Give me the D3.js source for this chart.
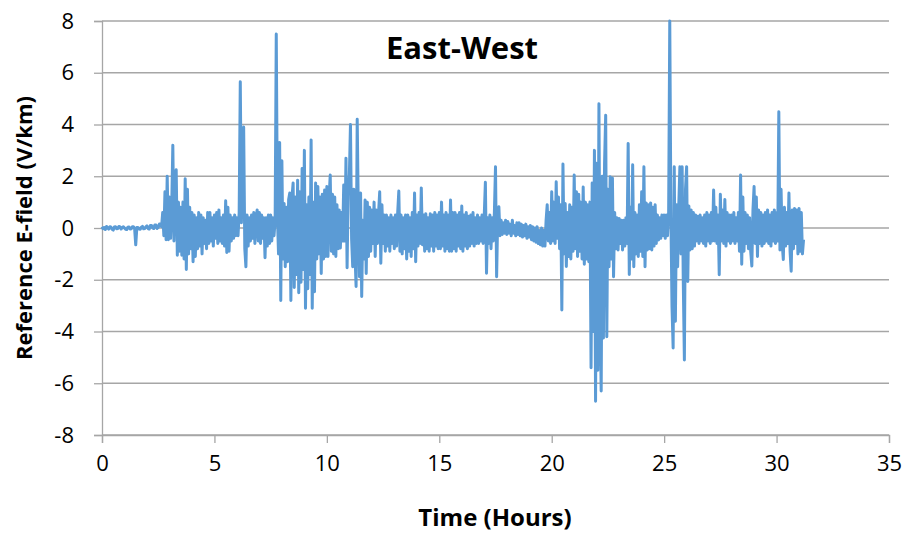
<!DOCTYPE html>
<html>
<head>
<meta charset="utf-8">
<script src="https://cdn.jsdelivr.net/npm/d3@7/dist/d3.min.js"></script>
<style>
  body { margin: 0; background: #fff; }
  text { font-family: "Open Sans", "Liberation Sans", sans-serif; fill: #000; }
</style>
</head>
<body>
<svg id="chart" width="914" height="538"></svg>
<script>
// East-West reference E-field, one sample every 0.05 hour (20 per row = 1 hour)
const sampleStep = 0.05;
const ewRows = [
  [0.05, -0.03, 0.02, -0.06, 0.06, 0.0, -0.04, 0.05, 0.03, -0.05, -0.08, 0.04, 0.05, -0.03, -0.02, 0.06, 0.04, -0.04, 0.02, 0.05],
  [0.0, -0.05, -0.06, 0.03, 0.04, -0.04, -0.03, 0.05, 0.05, -0.02, -0.65, 0.02, 0.02, -0.04, -0.05, 0.03, 0.06, -0.03, -0.02, 0.04],
  [0.08, -0.02, -0.04, 0.1, 0.1, 0.0, -0.02, 0.12, 0.12, -0.02, 0.02, 0.15, 0.15, 0.05, 0.6, -0.3, 1.4, -0.45, 2.0, -0.45],
  [1.2, -0.4, 0.8, 3.2, -0.5, 2.0, 2.25, -1.05, 1.0, -0.9, 0.8, -1.05, 1.0, -1.2, 1.9, -1.6, 1.5, -1.0, 0.8, -0.8],
  [0.6, -1.3, 0.5, -1.1, 0.4, -0.8, 0.6, -0.7, 0.5, -1.0, 0.4, -0.6, 0.3, -0.8, 0.6, -0.6, 0.6, -0.5, 0.4, -0.7],
  [0.5, -0.4, 0.6, -0.6, 0.7, -0.5, 0.4, -0.6, 0.5, -0.7, 1.05, -0.95, 0.8, -0.9, 0.5, -0.5, 0.4, -0.4, 0.5, -0.3],
  [0.4, -0.3, 0.6, 5.65, 0.2, 3.0, 3.9, -0.8, -1.5, 0.5, -0.7, 0.4, -0.5, 0.5, -0.4, 0.6, -0.6, 0.4, 0.7, -0.5],
  [0.6, -0.6, 0.5, -0.4, 0.4, -1.15, 0.4, -0.7, 0.5, -0.6, 0.5, -0.5, 0.4, -0.3, 0.3, 7.5, 0.5, -1.0, 3.3, -2.8],
  [2.6, -1.2, 0.95, -1.5, 0.8, -1.3, 1.1, 1.35, -2.8, 1.2, 1.74, -2.3, 1.2, -1.8, 1.85, -2.5, 1.4, -2.1, 2.3, -1.6],
  [3.0, -3.1, 0.9, -2.35, 1.2, -1.8, 3.4, -3.1, 1.0, -2.46, 1.74, -1.2, 1.6, -1.0, 1.2, -1.76, 1.3, -1.2, 1.47, -1.1],
  [1.6, -1.1, 1.2, 2.05, -0.9, 1.3, -1.0, 1.2, -1.1, 0.9, -0.8, 0.7, -0.77, 0.6, -0.5, 1.66, -0.5, 2.7, -1.54, 1.5],
  [2.0, 4.0, -0.4, -1.5, 1.5, -1.0, -2.26, 4.2, 0.5, -1.88, 1.35, -2.65, 0.3, -1.2, 1.08, -1.76, 1.0, -1.1, 0.8, -0.9],
  [0.7, -0.6, 1.0, -1.1, 0.7, -0.6, 0.6, 1.4, -1.36, 0.9, -0.6, 0.5, -0.9, 0.5, -0.7, 0.4, -0.9, 0.5, -0.6, 0.4],
  [-0.8, 0.5, -0.7, 0.6, 1.43, -0.9, 0.5, -1.0, 0.4, -0.8, 0.5, -1.2, 0.5, -0.9, 0.4, -1.1, 0.6, -0.8, 1.35, -1.3],
  [0.5, -0.7, 0.6, -0.6, 1.55, -0.65, 0.5, -0.9, 0.55, -0.8, 0.4, -0.9, 0.55, -0.7, 0.5, -0.9, 0.6, -0.7, 0.5, -0.8],
  [0.6, -0.8, 1.0, -0.7, 0.5, -0.9, 0.6, -0.8, 0.5, -0.9, 1.08, -0.9, 0.6, -0.8, 0.6, -0.9, 0.5, -0.7, 0.6, -0.8],
  [0.85, -0.9, 0.5, -0.7, 0.6, -0.8, 0.45, -0.7, 0.5, -0.6, 0.6, -0.7, 0.4, -0.6, 0.5, -0.6, 0.4, -0.5, 0.5, -0.6],
  [0.5, 1.77, -1.75, 0.4, -0.6, 0.5, -0.8, 0.4, -0.5, 0.6, 2.37, -1.88, 0.5, 0.82, -0.3, 0.3, -0.25, 0.2, -0.2, 0.3],
  [-0.25, 0.25, -0.2, 0.15, -0.3, 0.3, -0.2, 0.1, -0.3, 0.2, -0.25, 0.2, -0.3, 0.15, -0.35, 0.1, -0.3, 0.15, -0.4, 0.05],
  [-0.35, 0.1, -0.45, 0.05, -0.5, 0.0, -0.55, 0.05, -0.6, -0.1, -0.65, 0.0, -0.7, -0.1, -0.7, 0.3, 0.9, -0.5, 0.6, -0.6],
  [1.4, -0.5, 1.0, -0.6, 1.79, -0.4, 1.2, -0.8, 0.9, -3.17, 2.47, -1.0, 0.95, -1.49, 0.6, -1.1, 0.9, -1.2, 0.8, -0.9],
  [2.05, -0.8, 1.4, -1.1, 1.3, -0.9, 1.0, -1.2, 1.58, -1.4, 1.0, -1.2, 0.9, -1.3, 1.0, -5.4, 1.74, -4.0, 3.0, -6.7],
  [2.5, -5.5, 4.8, -3.0, -6.3, 2.0, -4.25, 2.5, 4.36, -4.2, 1.5, -1.5, 1.98, -1.2, 1.93, -1.88, 0.6, -0.8, 0.4, -0.85],
  [0.37, -0.6, 0.3, -0.85, 0.3, -0.7, 0.4, -0.6, 3.27, -1.8, 0.8, -1.2, 2.44, -1.5, 0.6, -1.0, 0.5, -1.1, 0.9, -0.9],
  [1.4, -1.1, 2.37, -1.5, 0.97, -0.85, 0.9, -0.8, 0.97, -0.85, 0.8, -0.7, 0.9, -0.6, 0.5, -0.46, 0.4, -0.4, 0.5, -0.3],
  [0.5, -0.4, 0.5, -0.3, 0.6, 8.0, 0.5, -3.04, -4.64, 2.37, -3.6, 0.9, -1.5, 0.85, 2.37, -1.0, 2.37, -2.0, -5.1, 1.5],
  [2.37, -2.07, 0.85, -0.85, 0.7, -0.8, 0.6, -0.7, 0.5, -0.5, 0.45, -0.6, 0.5, -0.5, 0.4, -0.6, 0.5, -0.7, 0.6, -0.5],
  [0.5, -0.6, 0.6, -0.5, 1.47, -0.5, 0.8, -0.6, 0.5, -1.81, 1.3, -0.5, 0.7, -0.6, 1.1, -0.7, 0.6, -0.5, 0.5, -0.6],
  [0.5, -0.5, 0.6, -0.6, 0.4, -0.5, 0.6, -0.9, 2.05, -1.4, 1.2, -0.9, 0.6, -0.6, 0.5, -0.8, 0.4, -0.9, -1.47, 0.7],
  [1.6, -0.6, 1.2, -1.1, 0.7, -0.6, 0.6, -0.7, 0.5, -0.6, 0.6, -0.5, 0.7, -0.6, 0.5, -0.7, 0.6, -0.5, 0.7, -0.6],
  [0.6, -0.5, 4.49, -0.85, 1.5, -0.6, -1.22, 0.8, -0.7, 0.6, -0.6, 1.35, -0.9, -1.67, 0.7, -0.8, 0.75, -0.6, 0.7, -1.0],
  [0.75, -0.9, 0.6, -1.0, -0.45]
];
const xTicks = [0, 5, 10, 15, 20, 25, 30, 35];
const yTicks = [-8, -6, -4, -2, 0, 2, 4, 6, 8];

const ewValues = ewRows.flat();
const series = ewValues.map((v, i) => ({ t: i * sampleStep, v: v }));

const margin = { top: 21, right: 25, bottom: 103, left: 102 };
const W = 914, H = 538;
const w = W - margin.left - margin.right;
const h = H - margin.top - margin.bottom;

const svg = d3.select("#chart");
const g = svg.append("g").attr("transform", `translate(${margin.left},${margin.top})`);

const x = d3.scaleLinear().domain([0, 35]).range([0, w]);
const y = d3.scaleLinear().domain([-8, 8]).range([h, 0]);

// horizontal gridlines
g.append("g")
  .selectAll("line")
  .data(yTicks)
  .join("line")
  .attr("x1", 0).attr("x2", w)
  .attr("y1", d => y(d)).attr("y2", d => y(d))
  .attr("stroke", "#a6a6a6")
  .attr("stroke-width", 1.3);

// y axis (plain hyphen minus like the original)
const yAxis = g.append("g")
  .call(d3.axisLeft(y).tickValues(yTicks).tickSize(8).tickPadding(20).tickFormat(d => String(d)));
yAxis.select(".domain").attr("stroke", "#a6a6a6").attr("stroke-width", 1.3);
yAxis.selectAll(".tick line").attr("stroke", "#a6a6a6").attr("stroke-width", 1.3);
yAxis.selectAll(".tick text").attr("font-size", 22).attr("font-family", "Open Sans");

// x axis
const xAxis = g.append("g")
  .attr("transform", `translate(0,${h})`)
  .call(d3.axisBottom(x).tickValues(xTicks).tickSize(8).tickPadding(12).tickFormat(d => String(d)));
xAxis.select(".domain").attr("stroke", "#a6a6a6").attr("stroke-width", 1.3);
xAxis.selectAll(".tick line").attr("stroke", "#a6a6a6").attr("stroke-width", 1.3);
xAxis.selectAll(".tick text").attr("font-size", 22).attr("font-family", "Open Sans");

// signal
const line = d3.line().x(d => x(d.t)).y(d => y(d.v));
g.append("path")
  .datum(series)
  .attr("fill", "none")
  .attr("stroke", "#5b9bd5")
  .attr("stroke-width", 3)
  .attr("stroke-linejoin", "round")
  .attr("d", line);

// titles
svg.append("text")
  .attr("x", 462).attr("y", 59)
  .attr("text-anchor", "middle")
  .attr("font-size", 31).attr("font-weight", "bold")
  .text("East-West");

svg.append("text")
  .attr("x", 495).attr("y", 526)
  .attr("text-anchor", "middle")
  .attr("font-size", 24).attr("font-weight", "bold")
  .text("Time (Hours)");

svg.append("text")
  .attr("transform", "translate(32,228) rotate(-90)")
  .attr("text-anchor", "middle")
  .attr("font-size", 22).attr("font-weight", "bold")
  .text("Reference E-field (V/km)");
</script>
</body>
</html>
